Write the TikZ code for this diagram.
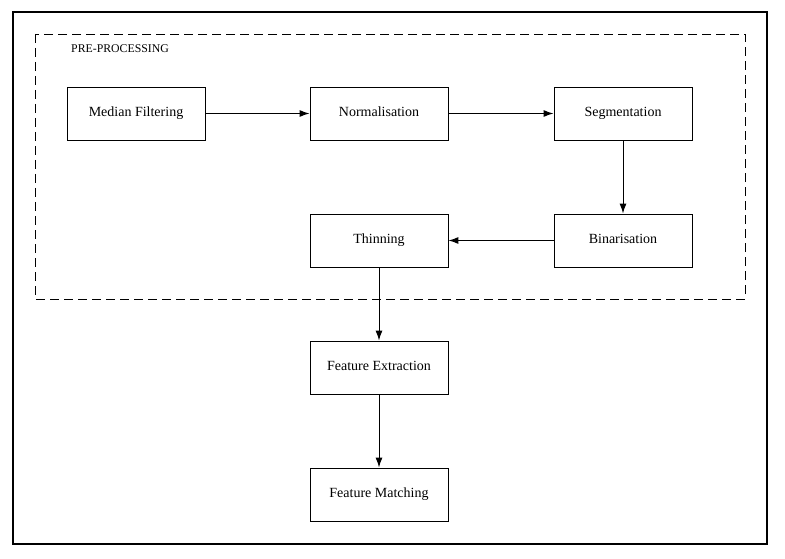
\documentclass[tikz,border=0pt]{standalone}
\usepackage{fontspec}
\setmainfont{Liberation Serif}
\usetikzlibrary{arrows.meta}

\tikzset{
  stage/.style={draw, line width=0.9pt, minimum width=138pt, minimum height=53pt, text height=10pt, text depth=3.5pt, font=\fontsize{14}{16}\selectfont},
  flow/.style={-{Latex[length=10pt,width=7pt]}, line width=1pt}
}

\begin{document}
\begin{tikzpicture}[x=1pt, y=-1pt]
    \useasboundingbox (0,0) rectangle (785,559);
    % Frames
    \draw[line width=2pt] (13,12) rectangle (767,544);
    \draw[line width=0.9pt, dash pattern=on 9pt off 5pt] (35,34) rectangle (745,299);
    \node[anchor=west, inner sep=0pt, font=\fontsize{11.8}{13}\selectfont] (pre) at (71,48.5) {PRE-PROCESSING};
    % Nodes
    \node[stage] (median) at (136,113.5) {Median Filtering};
    \node[stage] (norm) at (379,113.5) {Normalisation};
    \node[stage] (seg) at (623,113.5) {Segmentation};
    \node[stage] (bin) at (623,240.5) {Binarisation};
    \node[stage] (thin) at (379,240.5) {Thinning};
    \node[stage] (extract) at (379,367.5) {Feature Extraction};
    \node[stage] (match) at (379,494.5) {Feature Matching};
    % Arrows
    \draw[flow] (median) -- (norm);
    \draw[flow] (norm) -- (seg);
    \draw[flow] (seg) -- (bin);
    \draw[flow] (bin) -- (thin);
    \draw[flow] (thin) -- (extract);
    \draw[flow] (extract) -- (match);
\end{tikzpicture}
\end{document}
